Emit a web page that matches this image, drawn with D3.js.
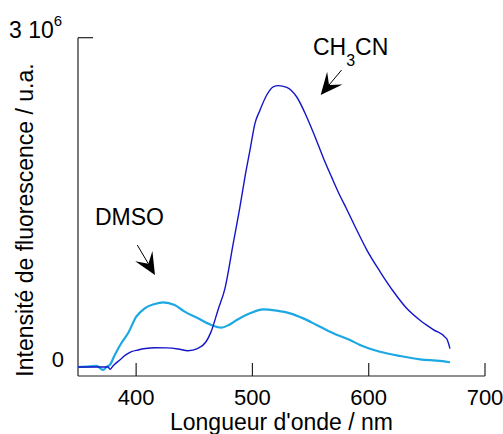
<!DOCTYPE html>
<html><head><meta charset="utf-8">
<script src="https://cdn.jsdelivr.net/npm/d3@7"></script>
<style>
html,body{margin:0;padding:0;background:#fff;}
svg{display:block;font-family:"Liberation Sans",Arial,sans-serif;}
</style></head>
<body>
<svg id="chart" width="503" height="434"></svg>
<script>
// Wavelength (nm) and intensity (u.a., x1e6)
const ch3cnWavelength = [350,375.8,377.5,380.1,385.9,391,396,401.6,408,416,426,436,444.6,453.2,460.1,464.4,470.4,476.4,483.5,489.3,493.6,497.9,502.2,506.5,512.3,517.9,522.2,529.5,538,546.6,553.8,560.9,568.1,575.3,581,589.6,598.2,609.7,621.1,632.6,644.1,655.5,667,669.9];
const ch3cnIntensity  = [0,0,-0.02,0.01,0.064,0.11,0.14,0.155,0.168,0.176,0.174,0.164,0.148,0.17,0.23,0.32,0.52,0.717,1.127,1.46,1.733,1.976,2.22,2.34,2.478,2.553,2.563,2.548,2.462,2.28,2.098,1.907,1.73,1.56,1.44,1.25,1.07,0.87,0.69,0.535,0.426,0.341,0.259,0.168];
const dmsoWavelength = [350,360,366,371.5,375,377.3,381.6,387.2,393,400.1,407.4,416,423.1,433.1,441.7,453.2,464.6,473.2,480,486.5,497.9,509.3,520.9,532.3,543.7,555.2,569.5,583.9,592.5,609.7,626.9,644.1,661.3,669.9];
const dmsoIntensity  = [0,0.005,0.01,-0.027,0.005,0.018,0.109,0.216,0.307,0.458,0.535,0.574,0.589,0.565,0.504,0.444,0.383,0.358,0.385,0.428,0.489,0.525,0.513,0.489,0.443,0.383,0.307,0.246,0.2,0.139,0.1,0.07,0.055,0.043];
const xTicks = [400,500,600,700];
const yTickLabels = ["0","3 10"];

const svg = d3.select("#chart");
const x = d3.scaleLinear().domain([350,700]).range([78,485]);
const y = d3.scaleLinear().domain([0,3]).range([367,37.7]);
const yAxisBottom = 376;

// axes lines
const axisColor = "#222";
svg.append("line").attr("x1",x(350)).attr("x2",x(700)).attr("y1",yAxisBottom).attr("y2",yAxisBottom)
  .attr("stroke",axisColor).attr("stroke-width",1.2);
svg.append("line").attr("x1",x(350)).attr("x2",x(350)).attr("y1",yAxisBottom).attr("y2",y(3))
  .attr("stroke",axisColor).attr("stroke-width",1.2);
svg.append("line").attr("x1",x(350)).attr("x2",x(350)+15).attr("y1",y(3)).attr("y2",y(3))
  .attr("stroke",axisColor).attr("stroke-width",1.2);

// x ticks (inward)
const xg = svg.append("g");
xTicks.forEach(t=>{
  xg.append("line").attr("x1",x(t)).attr("x2",x(t)).attr("y1",yAxisBottom).attr("y2",yAxisBottom-13)
    .attr("stroke",axisColor).attr("stroke-width",1.2);
  xg.append("text").attr("x",x(t)).attr("y",405).attr("text-anchor","middle")
    .attr("font-size",22).attr("fill","#000").text(t);
});

// y tick labels
svg.append("text").attr("x",64).attr("y",y(0)).attr("text-anchor","end").attr("font-size",22).text(yTickLabels[0]);
const topLbl = svg.append("text").attr("x",9).attr("y",y(3)).attr("font-size",23);
topLbl.append("tspan").text(yTickLabels[1]);
topLbl.append("tspan").attr("font-size",15).attr("dy",-12).text("6");

// axis titles
svg.append("text").attr("x",(x(350)+x(700))/2).attr("y",430).attr("text-anchor","middle")
  .attr("font-size",23).text("Longueur d'onde / nm");
svg.append("text").attr("transform","translate(33,220) rotate(-90)").attr("text-anchor","middle")
  .attr("font-size",23).text("Intensité de fluorescence / u.a.");

// curves
const line = d3.line().x(d=>x(d[0])).y(d=>y(d[1])).curve(d3.curveMonotoneX);
svg.append("path").datum(d3.zip(dmsoWavelength,dmsoIntensity)).attr("d",line)
  .attr("fill","none").attr("stroke","#1ba8e3").attr("stroke-width",2.2);
svg.append("path").datum(d3.zip(ch3cnWavelength,ch3cnIntensity)).attr("d",line)
  .attr("fill","none").attr("stroke","#1515c8").attr("stroke-width",1.4);

// annotations (data coordinates)
const annotations = [
  {label:"DMSO", tx:364.6, ty:1.294, from:[401,1.111], to:[416.2,0.838]},
  {label:"CH3CN", tx:552, ty:2.842, from:[576.7,2.706], to:[558.7,2.478]}
];
function arrow(a){
  const x0=x(a.from[0]), y0=y(a.from[1]), x1=x(a.to[0]), y1=y(a.to[1]);
  const ang=Math.atan2(y1-y0,x1-x0);
  const L=22, W=10, notch=13;
  const ux=Math.cos(ang), uy=Math.sin(ang), px=-uy, py=ux;
  const bx=x1-ux*L, by=y1-uy*L;
  const nx=x1-ux*notch, ny=y1-uy*notch;
  svg.append("line").attr("x1",x0).attr("y1",y0).attr("x2",nx).attr("y2",ny)
    .attr("stroke","#000").attr("stroke-width",1);
  svg.append("path").attr("d",`M${x1},${y1}L${bx+px*W},${by+py*W}L${nx},${ny}L${bx-px*W},${by-py*W}Z`)
    .attr("fill","#000");
}
annotations.forEach(arrow);
svg.append("text").attr("x",x(annotations[0].tx)).attr("y",y(annotations[0].ty)).attr("font-size",23).text("DMSO");
const ct = svg.append("text").attr("x",x(annotations[1].tx)).attr("y",y(annotations[1].ty)).attr("font-size",23);
ct.append("tspan").text("CH");
ct.append("tspan").attr("dy",11).attr("font-size",16).text("3");
ct.append("tspan").attr("dy",-11).text("CN");
</script>
</body></html>
